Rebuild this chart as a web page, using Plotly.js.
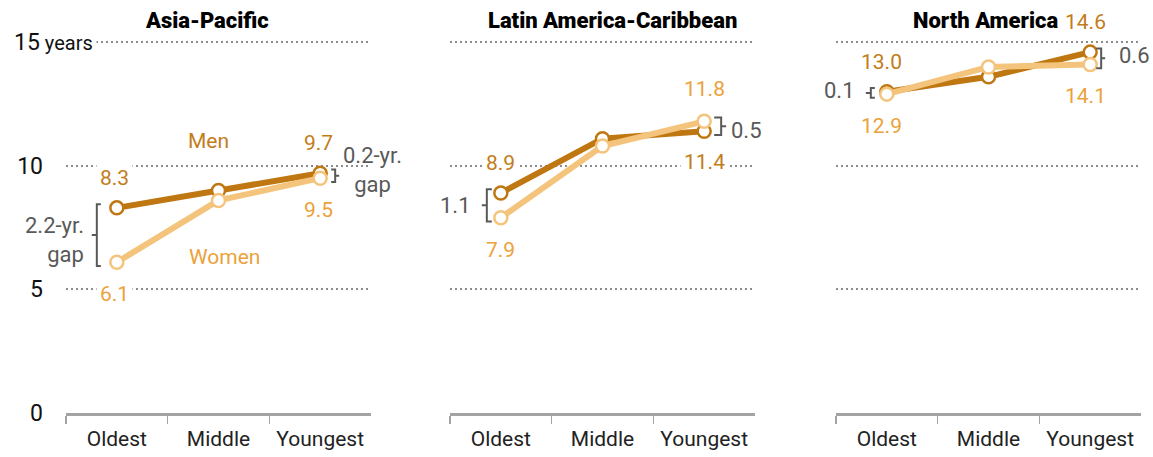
<!DOCTYPE html>
<html><head><meta charset="utf-8">
<script src="https://cdn.plot.ly/plotly-3.0.1.min.js"></script>
<style>body{margin:0;background:#fff}</style></head>
<body><div id="chart" style="width:1153px;height:457px"></div>
<script>
// ---- data ----
const generations = ["Oldest", "Middle", "Youngest"];
const regions = ["Asia-Pacific", "Latin America-Caribbean", "North America"];
const menAsia = [8.3, 9.0, 9.7];
const womenAsia = [6.1, 8.6, 9.5];
const menLatin = [8.9, 11.1, 11.4];
const womenLatin = [7.9, 10.8, 11.8];
const menNorth = [13.0, 13.6, 14.6];
const womenNorth = [12.9, 14.0, 14.1];
const gapOldest = [2.2, 1.1, 0.1];
const gapYoungest = [0.2, 0.5, 0.6];
const yTickVals = [0, 5, 10, 15];
const yTickText = ["0", "5", "10", ""];
const yearsLabel = "years";

// ---- styles ----
const MEN = "#bf7712", WOMEN = "#f4c47c";
const MEN_TXT = "#c27c1a", WOMEN_TXT = "#eba23a", GRAY = "#595959";
const FONT = "Roboto, 'Liberation Sans', sans-serif";
const NARROW = "Roboto, 'Liberation Sans', sans-serif";

const men = [menAsia, menLatin, menNorth];
const women = [womenAsia, womenLatin, womenNorth];
const sfx = ["", "2", "3"];
const domains = [[0, 0.28372], [0.35721, 0.64093], [0.71628, 1]];

const traces = [];
for (let i = 0; i < 3; i++) {
  [[men[i], MEN], [women[i], WOMEN]].forEach(([vals, col]) => {
    traces.push({
      x: generations, y: vals, xaxis: "x" + sfx[i], yaxis: "y" + sfx[i],
      type: "scatter", mode: "lines+markers", cliponaxis: false,
      line: {color: col, width: 6},
      marker: {size: 13, color: "#fff", line: {color: col, width: 2.5}},
      showlegend: false, hoverinfo: "skip"
    });
  });
}

const layout = {
  width: 1153, height: 457,
  margin: {l: 66, r: 12, t: 41, b: 43.5},
  paper_bgcolor: "#fff", plot_bgcolor: "rgba(0,0,0,0)",
  showlegend: false, hovermode: false,
  annotations: [], shapes: []
};

for (let i = 0; i < 3; i++) {
  layout["xaxis" + sfx[i]] = {
    domain: domains[i], anchor: "y" + sfx[i], type: "category",
    categoryorder: "array", categoryarray: generations,
    range: [-0.5, 2.5], showgrid: false, zeroline: false,
    showline: true, linecolor: "#a3a3a3", linewidth: 2.5,
    ticks: "outside", tickson: "boundaries", ticklen: 8, tickwidth: 1.5, tickcolor: "#a3a3a3",
    tickfont: {family: NARROW, size: 21, color: "#222"}, ticklabelstandoff: 5
  };
  layout["yaxis" + sfx[i]] = {
    domain: [0, 1], anchor: "x" + sfx[i], range: [0, 15.05],
    tickvals: yTickVals, ticktext: yTickText, showticklabels: i === 0,
    tickfont: {family: FONT, size: 23, color: "#111"}, ticks: "", ticklabelstandoff: 22,
    showgrid: true, gridcolor: "#8c8c8c", gridwidth: 2, griddash: "2px,3px",
    zeroline: false, showline: false
  };
  const xa = "x" + sfx[i], ya = "y" + sfx[i];
  const A = (x, y, text, color, o) => Object.assign({
    xref: xa, yref: ya, x, y, text, showarrow: false,
    font: {family: FONT, size: 21, color}, bgcolor: "#fff", borderpad: 3
  }, o || {});

  // titles
  layout.annotations.push({
    xref: xa, yref: "paper", x: 1, y: 1, yshift: 21, text: regions[i],
    showarrow: false, xshift: [-12, 10, -3][i], yanchor: "middle",
    font: {family: FONT, size: 22, color: "#000", weight: 900}
  });

  // value labels at oldest and youngest
  const dx = i === 2 ? -5 : (i === 0 ? -2 : 0);
  [0, 2].forEach(k => {
    const mUp = men[i][k] >= women[i][k];
    layout.annotations.push(A(k, men[i][k], men[i][k].toFixed(1), MEN_TXT,
      {xshift: dx, yshift: mUp ? 30 : -31}));
    layout.annotations.push(A(k, women[i][k], women[i][k].toFixed(1), WOMEN_TXT,
      {xshift: dx, yshift: mUp ? -32 : 32}));
  });

  // brackets + gap labels
  const pad = 0.15;
  const br = (k, v, e, m) => {
    const hi = Math.max(men[i][k], women[i][k]) + pad;
    const lo = Math.min(men[i][k], women[i][k]) - pad;
    const mid = (men[i][k] + women[i][k]) / 2;
    layout.shapes.push({
      type: "path", xref: xa, yref: ya, xsizemode: "pixel", xanchor: k,
      path: `M ${e},${hi} L ${v},${hi} L ${v},${lo} L ${e},${lo} M ${v},${mid} L ${m},${mid}`,
      line: {color: GRAY, width: 2}, layer: "above"
    });
    return mid;
  };
  const bSpecL = [[-20, -16, -25], [-14, -9, -19], [-16, -12, -21]][i];
  const bSpecR = [[15, 11, 19], [17, 10, 22], [11, 6, 15]][i];
  const midL = br(0, ...bSpecL);
  const midR = br(2, ...bSpecR);
  const gL = gapOldest[i].toFixed(1), gR = gapYoungest[i].toFixed(1);
  const gf = {family: FONT, size: 22, color: GRAY};
  if (i === 0) {
    layout.annotations.push(A(0, midL, gL + "-yr.<br>gap", GRAY,
      {xanchor: "right", align: "right", xshift: -29, yshift: -5, bgcolor: "rgba(0,0,0,0)", font: gf}));
    layout.annotations.push(A(2, midR, gR + "-yr.<br>gap", GRAY,
      {xanchor: "center", align: "center", xshift: 52, yshift: 6, bgcolor: "rgba(0,0,0,0)", font: gf}));
    // series labels
    layout.annotations.push(A(1, men[i][1], "Men", MEN_TXT, {xshift: -10, yshift: 50, bgcolor: "rgba(0,0,0,0)"}));
    layout.annotations.push(A(1, women[i][1], "Women", WOMEN_TXT, {xshift: 6, yshift: -57, bgcolor: "rgba(0,0,0,0)"}));
    // "15 years" label
    layout.annotations.push({
      xref: "paper", yref: ya, x: 0, y: yTickVals[3], xanchor: "left", xshift: -56,
      text: yTickVals[3] + "<span style='font-size:20px'> " + yearsLabel + "</span>",
      showarrow: false, font: {family: FONT, size: 23, color: "#111"}, bgcolor: "#fff", borderpad: 3
    });
  } else {
    const sh = [null, [-26, 0, 23, -4], [-28, 2, 25, 3]][i];
    layout.annotations.push(A(0, midL, gL, GRAY,
      {xanchor: "right", xshift: sh[0], yshift: sh[1], bgcolor: "rgba(0,0,0,0)", font: gf}));
    layout.annotations.push(A(2, midR, gR, GRAY,
      {xanchor: "left", xshift: sh[2], yshift: sh[3], bgcolor: "rgba(0,0,0,0)", font: gf}));
  }
}

Plotly.newPlot("chart", traces, layout, {staticPlot: true, displayModeBar: false});
</script></body></html>
